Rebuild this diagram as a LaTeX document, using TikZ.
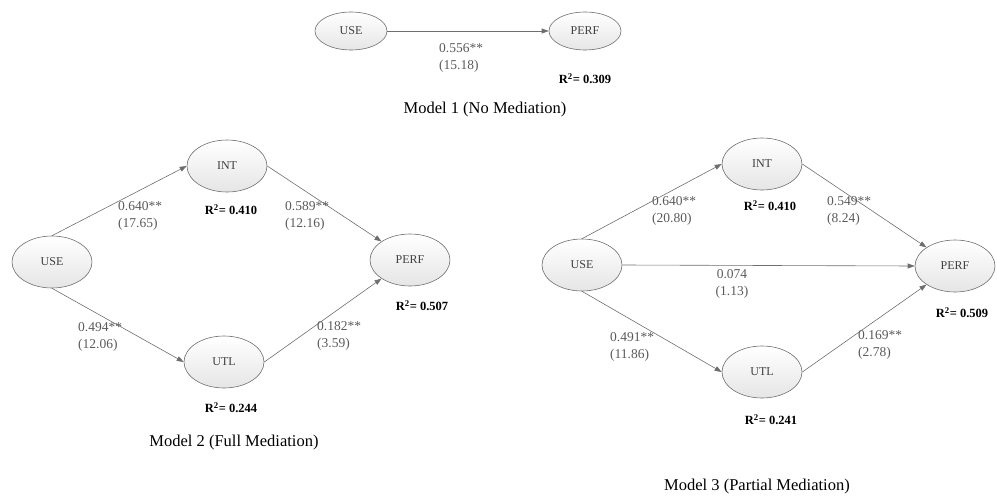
\documentclass[tikz,border=0pt]{standalone}
\usepackage{fontspec}
\setmainfont{Liberation Serif}
\usetikzlibrary{shapes.geometric,arrows.meta}
\definecolor{edgegray}{HTML}{6E6E6E}
\definecolor{labgray}{HTML}{5A5A5A}
\begin{document}
\begin{tikzpicture}[x=1pt,y=-1pt,
  lv/.style={ellipse, draw=edgegray, line width=0.6pt, top color=white, bottom color=gray!20,
    minimum width=80pt, minimum height=52pt, inner sep=0pt,
    font=\fontsize{12}{13}\selectfont, text=black!75},
  lvs/.style={lv, minimum width=72pt, minimum height=38pt},
  conn/.style={draw=edgegray, line width=0.6pt, -{Triangle[length=7pt,width=5pt]}},
  coef/.style={font=\fontsize{13.5}{17}\selectfont, text=labgray, align=left, inner sep=0pt, anchor=west},
  rsq/.style={font=\bfseries\fontsize{12.5}{13}\selectfont, inner sep=0pt},
  captext/.style={font=\fontsize{16.5}{18}\selectfont, inner sep=0pt}
]
\useasboundingbox (0,0) rectangle (997,498);

% Model 1
\node[lvs] (m1use) at (351,31) {USE};
\node[lvs] (m1perf) at (585,31) {PERF};
\draw[conn] (m1use) -- (m1perf);
\node[coef] (m1c) at (439,58) {0.556**\\(15.18)};
\node[rsq] (m1r) at (585,79) {R\textsuperscript{2}= 0.309};
\node[captext] (m1cap) at (485,110) {Model 1 (No Mediation)};

% Model 2
\node[lv] (m2use) at (52,262) {USE};
\node[lv] (m2int) at (227,166) {INT};
\node[lv] (m2perf) at (410,260) {PERF};
\node[lv] (m2utl) at (224,362) {UTL};
\draw[conn] (m2use.north) -- (m2int.west);
\draw[conn] (m2int.east) -- (m2perf.north west);
\draw[conn] (m2use.south) -- (m2utl.west);
\draw[conn] (m2utl.east) -- (m2perf.south west);
\node[coef] (m2c1) at (118,216) {0.640**\\(17.65)};
\node[coef] (m2c2) at (285,216) {0.589**\\(12.16)};
\node[coef] (m2c3) at (78,337) {0.494**\\(12.06)};
\node[coef] (m2c4) at (317,336) {0.182**\\(3.59)};
\node[rsq] (m2r1) at (231,210) {R\textsuperscript{2}= 0.410};
\node[rsq] (m2r2) at (422,306) {R\textsuperscript{2}= 0.507};
\node[rsq] (m2r3) at (231,408) {R\textsuperscript{2}= 0.244};
\node[captext] (m2cap) at (234,443) {Model 2 (Full Mediation)};

% Model 3
\node[lv] (m3use) at (582,265) {USE};
\node[lv] (m3int) at (762,164) {INT};
\node[lv] (m3perf) at (955,266) {PERF};
\node[lv] (m3utl) at (762,372) {UTL};
\draw[conn] (m3use.north) -- (m3int.west);
\draw[conn] (m3int.east) -- (m3perf.north west);
\draw[conn] (m3use.east) -- (m3perf.west);
\draw[conn] (m3use.south) -- (m3utl.west);
\draw[conn] (m3utl.east) -- (m3perf.south west);
\node[coef] (m3c1) at (652,211) {0.640**\\(20.80)};
\node[coef] (m3c2) at (827,211) {0.549**\\(8.24)};
\node[coef, anchor=center, align=center] (m3c5) at (732,284) {0.074\\(1.13)};
\node[coef] (m3c3) at (610,347) {0.491**\\(11.86)};
\node[coef] (m3c4) at (858,345) {0.169**\\(2.78)};
\node[rsq] (m3r1) at (770,206) {R\textsuperscript{2}= 0.410};
\node[rsq] (m3r2) at (962,313) {R\textsuperscript{2}= 0.509};
\node[rsq] (m3r3) at (771,420) {R\textsuperscript{2}= 0.241};
\node[captext] (m3cap) at (757,487) {Model 3 (Partial Mediation)};
\end{tikzpicture}
\end{document}
